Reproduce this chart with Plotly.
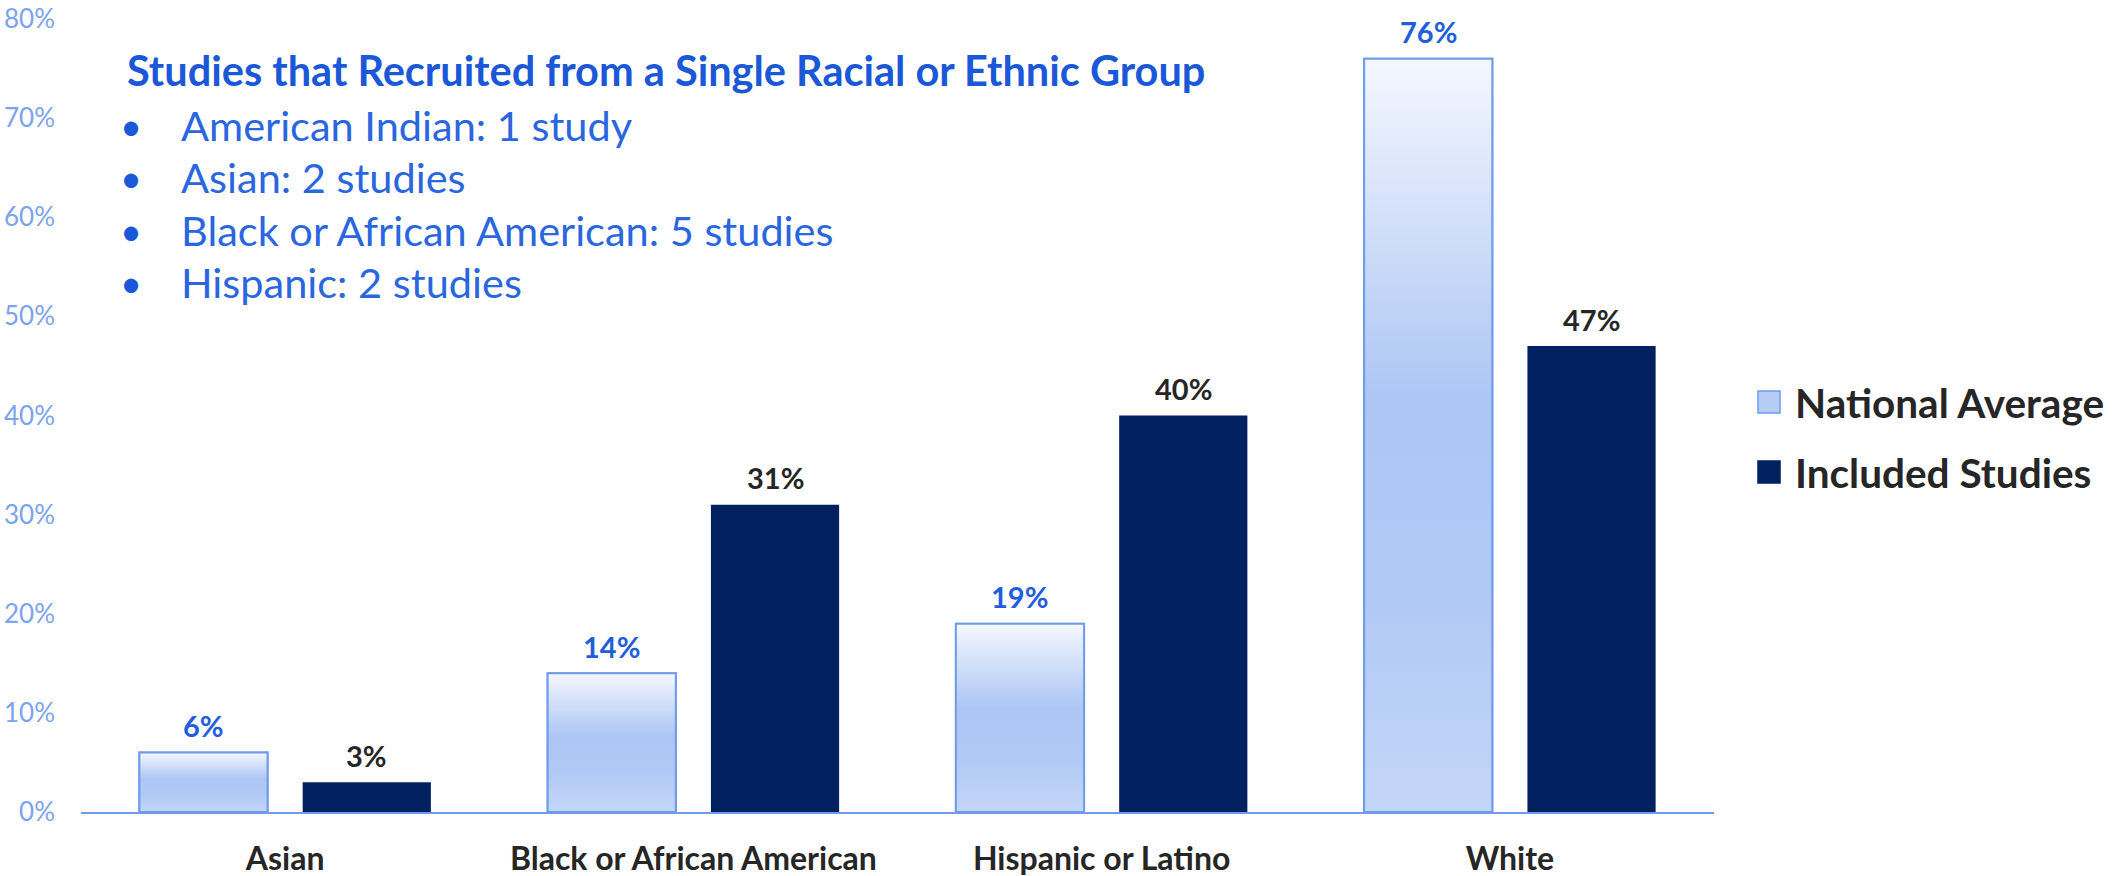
import plotly.graph_objects as go

# ---- data ----
categories = ["Asian", "Black or African American", "Hispanic or Latino", "White"]
national_average = [6, 14, 19, 76]
included_studies = [3, 31, 40, 47]
y_ticks = [0, 10, 20, 30, 40, 50, 60, 70, 80]
y_tick_labels = [f"{t}%" for t in y_ticks]

heading = "Studies that Recruited from a Single Racial or Ethnic Group"
single_group_studies = [
    "American Indian: 1 study",
    "Asian: 2 studies",
    "Black or African American: 5 studies",
    "Hispanic: 2 studies",
]
series_names = ["National Average", "Included Studies"]

# ---- styling ----
W, H = 2116, 876
M_L, M_R, M_T, M_B = 81, 402, 19, 64
PLOT_W = W - M_L - M_R
PLOT_H = H - M_T - M_B

FONT = "Lato"
NAVY = "#002060"
LIGHT = "#adc6f4"
EDGE = "#6f9cea"
BLUE_TXT = "#1f5edc"
DARK_TXT = "#262626"

BAR_W = 0.314          # bar width in category units
OFF_NAT = -0.2 - BAR_W / 2
OFF_INC = 0.2 - BAR_W / 2

x_idx = list(range(len(categories)))


def px_x(px):
    return (px - M_L) / PLOT_W


def px_y(py):
    return 1 - (py - M_T) / PLOT_H


fig = go.Figure()

fig.add_trace(go.Bar(
    x=x_idx, y=national_average, name=series_names[0],
    width=BAR_W, offset=OFF_NAT,
    marker=dict(color=LIGHT, line=dict(color=EDGE, width=2)),
    showlegend=False, hoverinfo="y",
))
fig.add_trace(go.Bar(
    x=x_idx, y=included_studies, name=series_names[1],
    width=BAR_W, offset=OFF_INC,
    marker=dict(color=NAVY, line=dict(color=NAVY, width=0)),
    showlegend=False, hoverinfo="y",
))

# vertical gradient fill laid over each National Average bar
grad_scale = [[0.0, "#c4d6f8"], [0.3, "#afc8f4"], [0.55, "#adc6f4"], [1.0, "#f4f7fe"]]
for i, v in zip(x_idx, national_average):
    x0 = i + OFF_NAT
    x1 = x0 + BAR_W
    fig.add_trace(go.Scatter(
        x=[x0, x1, x1, x0, x0], y=[0, 0, v, v, 0],
        mode="lines", fill="toself",
        fillgradient=dict(type="vertical", colorscale=grad_scale, start=0, stop=v),
        line=dict(color=EDGE, width=2),
        showlegend=False, hoverinfo="skip",
    ))

# value labels above bars
for i, v in zip(x_idx, national_average):
    fig.add_annotation(x=i + OFF_NAT + BAR_W / 2, y=v, text=f"<b>{v}%</b>",
                       showarrow=False, yshift=27, xref="x", yref="y",
                       font=dict(family=FONT, size=29, color=BLUE_TXT))
for i, v in zip(x_idx, included_studies):
    fig.add_annotation(x=i + OFF_INC + BAR_W / 2, y=v, text=f"<b>{v}%</b>",
                       showarrow=False, yshift=27, xref="x", yref="y",
                       font=dict(family=FONT, size=29, color=DARK_TXT))

# heading and bullet list
fig.add_annotation(x=px_x(125), y=px_y(70), xref="paper", yref="paper",
                   xanchor="left", yanchor="middle", showarrow=False,
                   text=f"<b>{heading}</b>",
                   font=dict(family=FONT, size=41.5, color="#1a58d8"))
for k, line in enumerate(single_group_studies):
    yy = px_y(125 + 52.5 * k)
    fig.add_annotation(x=px_x(131), y=yy, xref="paper", yref="paper",
                       xanchor="center", yanchor="middle", showarrow=False,
                       text="•", font=dict(family=FONT, size=38, color="#1a58d8"))
    fig.add_annotation(x=px_x(179), y=yy, xref="paper", yref="paper",
                       xanchor="left", yanchor="middle", showarrow=False,
                       text=line, font=dict(family=FONT, size=41.5, color="#2a66e0"))

# legend
legend_rows = [(402, LIGHT, EDGE), (472, NAVY, NAVY)]
for (cy, fillc, linec), name in zip(legend_rows, series_names):
    fig.add_shape(type="rect", xref="paper", yref="paper",
                  x0=px_x(1758), x1=px_x(1780), y0=px_y(cy + 11), y1=px_y(cy - 11),
                  fillcolor="#b5cdf6" if fillc == LIGHT else fillc,
                  line=dict(color=linec, width=1.5))
    fig.add_annotation(x=px_x(1793), y=px_y(cy), xref="paper", yref="paper",
                       xanchor="left", yanchor="middle", showarrow=False,
                       text=f"<b>{name}</b>",
                       font=dict(family=FONT, size=40.5, color=DARK_TXT))

fig.update_layout(
    width=W, height=H,
    margin=dict(l=M_L, r=M_R, t=M_T, b=M_B, autoexpand=False),
    paper_bgcolor="white", plot_bgcolor="white",
    barmode="overlay",
    showlegend=False,
    font=dict(family=FONT),
    xaxis=dict(
        range=[-0.5, len(categories) - 0.5],
        tickvals=x_idx, ticktext=[f"<b>{c}</b>" for c in categories],
        tickfont=dict(family=FONT, size=32, color=DARK_TXT),
        showline=True, linecolor=EDGE, linewidth=2,
        showgrid=False, zeroline=False, ticks="",
        ticklabelstandoff=18,
    ),
    yaxis=dict(
        range=[0, 80.0001], tickvals=y_ticks, ticktext=y_tick_labels,
        tickfont=dict(family=FONT, size=26, color="#7ba3ee"),
        showline=False, showgrid=False, zeroline=False, ticks="",
        ticklabelstandoff=25, ticklabeloverflow="allow",
    ),
)

fig.write_html("out.html")
